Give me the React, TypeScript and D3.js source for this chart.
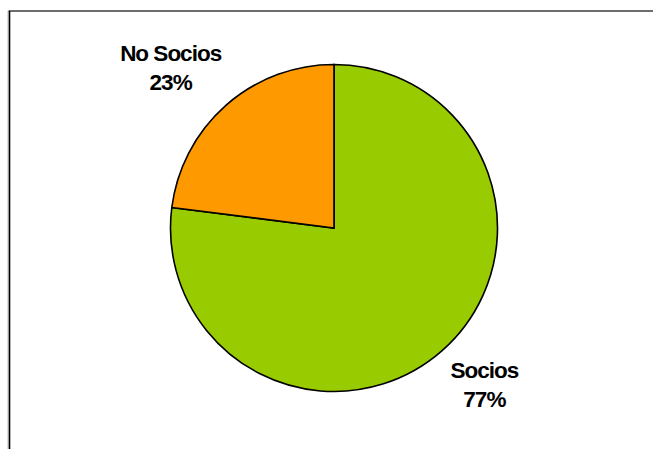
import React from 'react';
import * as d3 from 'd3';

const categories = ['Socios', 'No Socios'];
const values = [77, 23];
const colors = ['#99CC00', '#FF9900'];
// label nudges relative to arc centroid (Excel-style outside labels)
const labelNudge = [
  [-1, -19],
  [-12, 8],
];

const W = 653;
const H = 449;

export default function App() {
  const cx = 334;
  const cy = 228;
  const r = 163.5;

  const pie = d3
    .pie<number>()
    .value((d) => d)
    .sort(null);
  const arcs = pie(values);
  const arc = d3.arc<d3.PieArcDatum<number>>().innerRadius(0).outerRadius(r);
  const labelArc = d3
    .arc<d3.PieArcDatum<number>>()
    .innerRadius(r * 1.4)
    .outerRadius(r * 1.4);

  const font = '"Liberation Sans", Arial, sans-serif';

  return (
    <svg
      width={W}
      height={H}
      style={{ position: 'absolute', left: 0, top: 0, background: '#fff' }}
    >
      {/* frame */}
      <line x1={8.5} y1={11} x2={W} y2={11} stroke="#3c3c3c" strokeWidth={1.6} />
      <line x1={8} y1={11} x2={8} y2={H} stroke="#bbb" strokeWidth={1} />
      <line x1={9.5} y1={11} x2={9.5} y2={H} stroke="#000" strokeWidth={1.6} />

      <g transform={`translate(${cx},${cy})`}>
        {arcs.map((a, i) => (
          <path
            key={categories[i]}
            d={arc(a) || ''}
            fill={colors[i]}
            stroke="#000"
            strokeWidth={1.6}
            strokeLinejoin="miter"
          />
        ))}
        {arcs.map((a, i) => {
          const [x, y] = labelArc.centroid(a);
          const lx = x + labelNudge[i][0];
          const ly = y + labelNudge[i][1];
          return (
            <text
              key={'l' + categories[i]}
              x={lx}
              y={ly}
              textAnchor="middle"
              fontFamily={font}
              fontWeight="bold"
              fontSize={22.5}
              letterSpacing={-1}
              fill="#000"
            >
              <tspan x={lx} dy={-3}>
                {categories[i]}
              </tspan>
              <tspan x={lx} dy={29}>
                {values[i]}%
              </tspan>
            </text>
          );
        })}
      </g>
    </svg>
  );
}
